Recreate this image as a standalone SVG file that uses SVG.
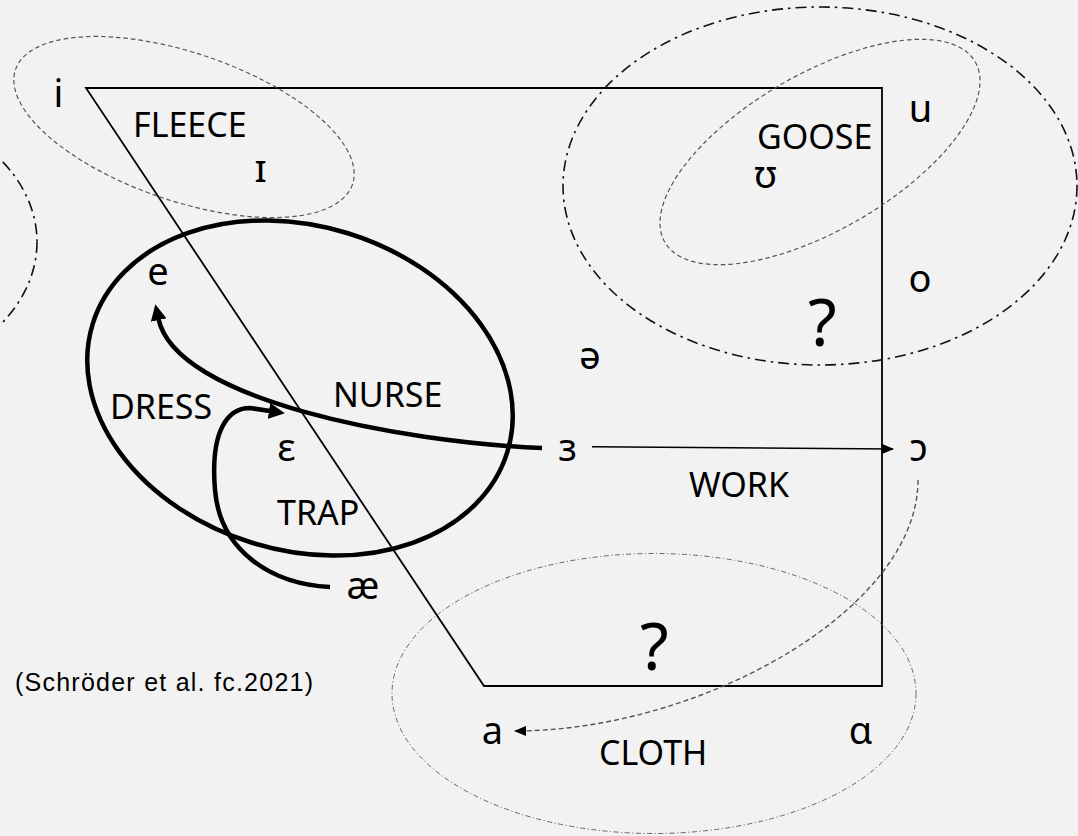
<svg xmlns="http://www.w3.org/2000/svg" width="1078" height="836" viewBox="0 0 1078 836">
<style>
.lbl{font-family:"Noto Sans","Open Sans",sans-serif;font-size:34px;fill:#000}
.ipa{font-family:"Noto Sans","DejaVu Sans",sans-serif;font-size:38px;fill:#000}
.q{font-family:"Noto Sans","Open Sans",sans-serif;font-size:66px;fill:#000}
.cite{font-family:"Liberation Sans",Arial,sans-serif;font-size:25px;fill:#000}
.dash{fill:none;stroke:#555;stroke-width:1.2;stroke-dasharray:4.5 3}
.dd{fill:none;stroke:#111;stroke-width:1.6;stroke-dasharray:11 5 2.5 5}
.ddthin{fill:none;stroke:#666;stroke-width:1;stroke-dasharray:5 2.5 1.2 2.5}
.thick{fill:none;stroke:#000;stroke-width:4.5}
</style>
<defs>
<marker id="ahThick" markerUnits="userSpaceOnUse" viewBox="0 0 16 16" refX="1" refY="8" markerWidth="16" markerHeight="16" orient="auto">
<path d="M0,0 L16,8 L0,16 Z" fill="#000"/>
</marker>
<marker id="ahThin" markerUnits="userSpaceOnUse" viewBox="0 0 12 10" refX="11" refY="5" markerWidth="12" markerHeight="10" orient="auto">
<path d="M0,0 L12,5 L0,10 Z" fill="#000"/>
</marker>
<marker id="ahDash" markerUnits="userSpaceOnUse" viewBox="0 0 12 10" refX="11" refY="5" markerWidth="12" markerHeight="10" orient="auto">
<path d="M0,0 L12,5 L0,10 Z" fill="#000"/>
</marker>
</defs>
<rect x="0" y="0" width="1078" height="836" fill="#f2f2f2"/>

<g id="chart">
<path d="M86,88 L882,88 L882,686 L484,686 Z" fill="none" stroke="#000" stroke-width="1.8"/>
</g>

<g id="fleece">
<ellipse class="dash" cx="184" cy="127" rx="178" ry="74" transform="rotate(18.8 184 127)"/>
<text class="lbl" x="133" y="137">FLEECE</text>
</g>
<g id="left-region">
<ellipse class="dd" cx="-150" cy="242" rx="187" ry="139"/>
</g>
<g id="goose-outer">
<ellipse class="dd" cx="820" cy="186" rx="257" ry="179"/>
<text class="q" x="808" y="346">?</text>
</g>
<g id="goose">
<ellipse class="dash" cx="820" cy="152" rx="179.5" ry="78" transform="rotate(-30.2 820 152)"/>
<text class="lbl" x="757" y="149">GOOSE</text>
</g>
<g id="nurse-dress-trap">
<ellipse class="thick" cx="300" cy="388" rx="217" ry="162" transform="rotate(17.2 300 388)"/>
<text class="lbl" x="110" y="419">DRESS</text>
<text class="lbl" x="333" y="407">NURSE</text>
<text class="lbl" x="277" y="525">TRAP</text>
</g>
<g id="cloth">
<ellipse class="ddthin" cx="654" cy="693.5" rx="262" ry="140"/>
<text class="q" x="640" y="670">?</text>
<text class="lbl" x="599" y="765">CLOTH</text>
</g>
<g id="work">
<text class="lbl" x="689" y="497">WORK</text>
</g>

<g id="vowels">
<text class="ipa" x="58.5" y="107" text-anchor="middle">i</text>
<text class="ipa" x="260.5" y="182" text-anchor="middle">ɪ</text>
<text class="ipa" x="920.5" y="122" text-anchor="middle">u</text>
<text class="ipa" x="765.5" y="188" text-anchor="middle" font-size="36">ʊ</text>
<text class="ipa" x="920" y="292" text-anchor="middle">o</text>
<text class="ipa" x="158" y="285" text-anchor="middle">e</text>
<text class="ipa" x="590" y="369" text-anchor="middle">ə</text>
<text class="ipa" x="286.5" y="461" text-anchor="middle">ɛ</text>
<text class="ipa" x="567.5" y="461" text-anchor="middle">ɜ</text>
<text class="ipa" x="918.5" y="461" text-anchor="middle">ɔ</text>
<text class="ipa" x="363" y="599" text-anchor="middle">æ</text>
<text class="ipa" x="492.5" y="744" text-anchor="middle">a</text>
<text class="ipa" x="860.5" y="744" text-anchor="middle">ɑ</text>
</g>

<g id="connectors">
<path class="thick" d="M542,448 C400,442 176,400 158.5,319" marker-end="url(#ahThick)"/>
<path class="thick" d="M330,587 C270,584 220,550 215,490 C210,430 228,408 250,408 L270,411" marker-end="url(#ahThick)"/>
<path d="M592,446.7 L893,449" fill="none" stroke="#000" stroke-width="1.5" marker-end="url(#ahThin)"/>
<path d="M918,480 C918,610 700,731 515,731" fill="none" stroke="#555" stroke-width="1.4" stroke-dasharray="5 3" marker-end="url(#ahDash)"/>
</g>

<text class="cite" x="15" y="691" textLength="298" lengthAdjust="spacing">(Schröder et al. fc.2021)</text>
</svg>
